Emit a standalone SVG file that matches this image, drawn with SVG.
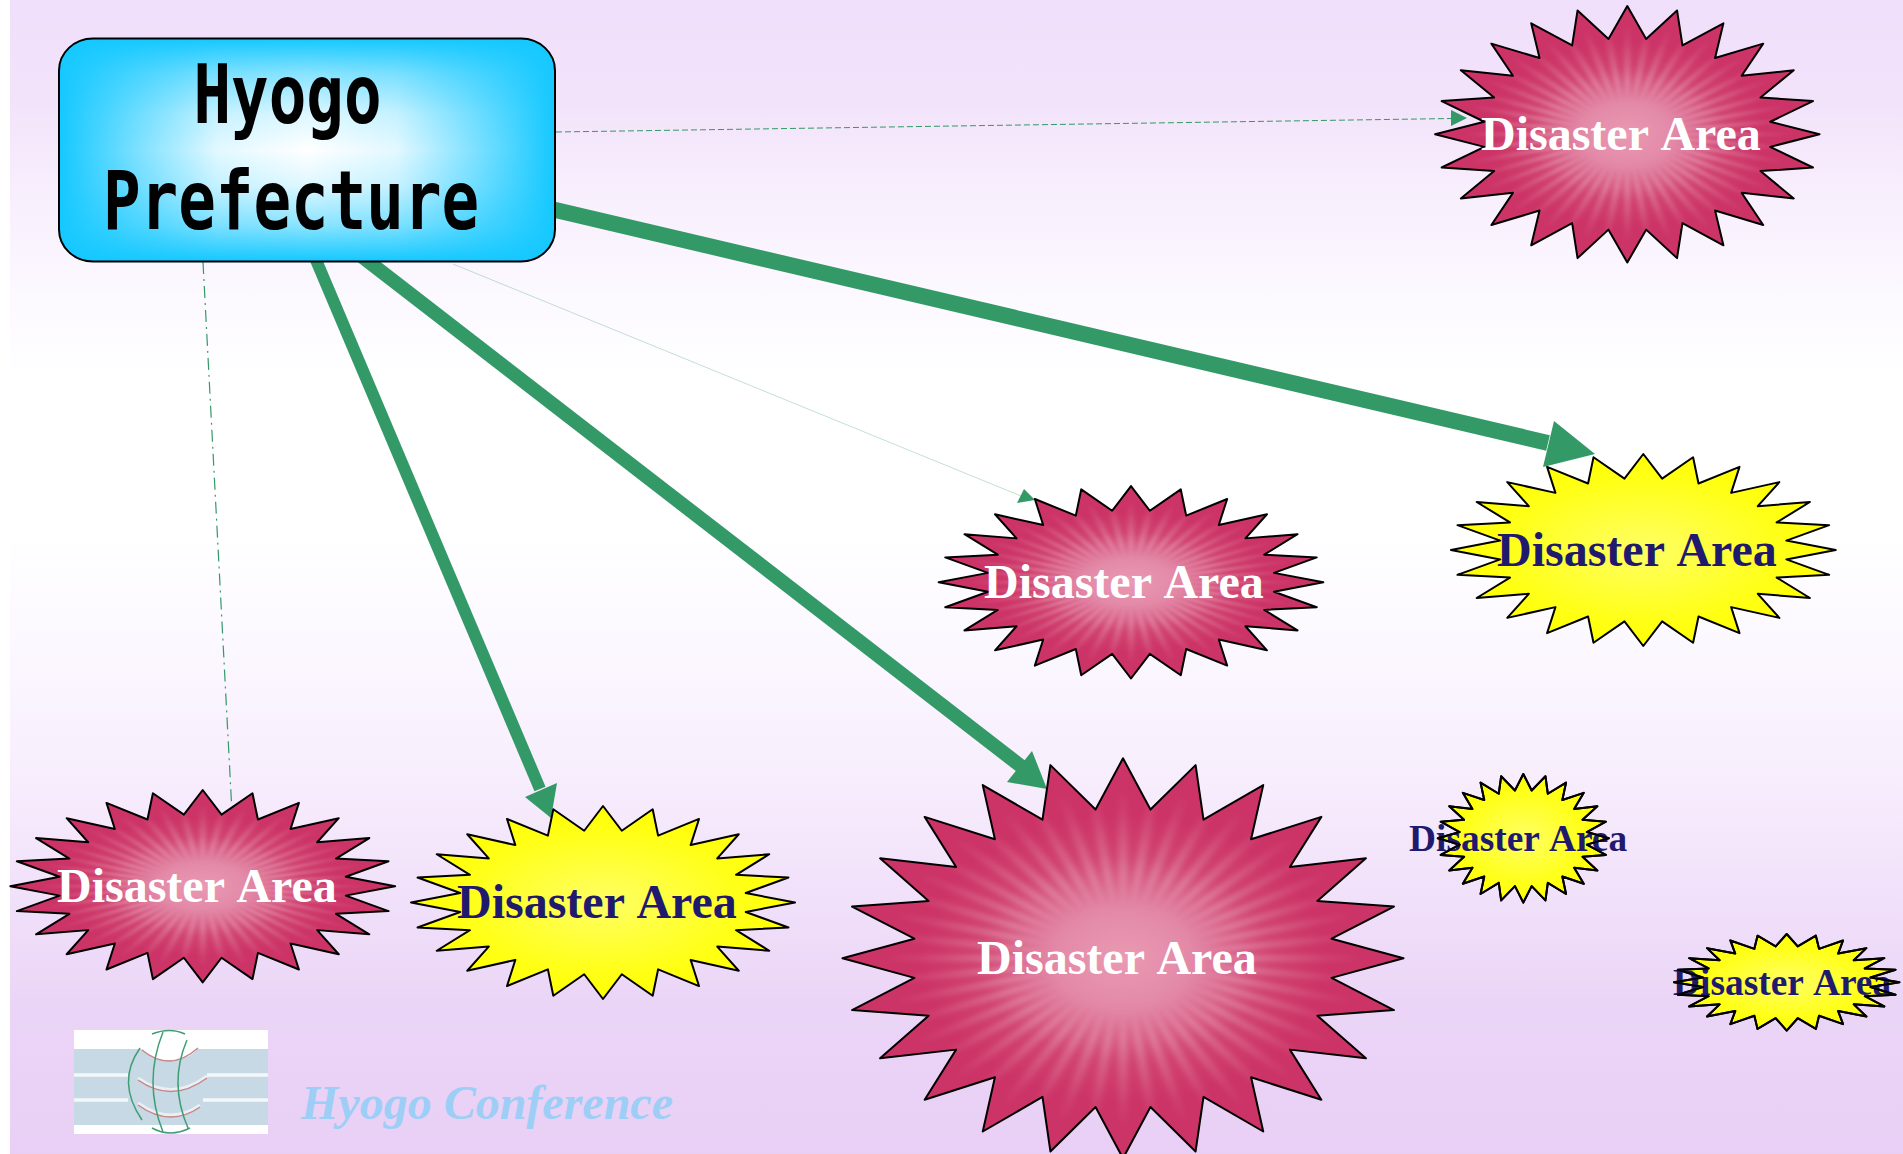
<svg xmlns="http://www.w3.org/2000/svg" xmlns:xlink="http://www.w3.org/1999/xlink" width="1903" height="1154" viewBox="0 0 1903 1154">
<style>
.sl{font-family:"Liberation Serif","Times New Roman",serif;font-weight:700;font-size:48px;word-spacing:3px}
.wh{fill:#fff}
.bl{fill:#1f1a6e}
.sm{font-size:37.4px;word-spacing:2.500px}
.edge{fill:none;stroke:#339966}
.hd{fill:#339966}
.outline{fill:none;stroke:#000;stroke-width:2;stroke-linejoin:round}
.ttl{font-family:"DejaVu Sans Mono",monospace;font-weight:700;font-size:62.500px;fill:#000}
</style>
<defs>
<linearGradient id="bg" x1="0" y1="0" x2="0" y2="1">
<stop offset="0" stop-color="#f0dffa"/><stop offset=".09" stop-color="#f2e3fa"/><stop offset=".17" stop-color="#f8effd"/><stop offset=".26" stop-color="#fcf9ff"/><stop offset=".33" stop-color="#fff"/><stop offset=".46" stop-color="#fff"/><stop offset=".57" stop-color="#fbf7ff"/><stop offset=".66" stop-color="#f8effd"/><stop offset=".87" stop-color="#ebd5f7"/><stop offset="1" stop-color="#e9cff5"/>
</linearGradient>
<linearGradient id="boxH" x1="0" y1="0" x2="1" y2="0">
<stop offset="0" stop-color="#14c8ff"/><stop offset=".16" stop-color="#14c8ff" stop-opacity=".55"/><stop offset=".32" stop-color="#14c8ff" stop-opacity=".12"/><stop offset=".5" stop-color="#14c8ff" stop-opacity="0"/><stop offset=".68" stop-color="#14c8ff" stop-opacity=".12"/><stop offset=".84" stop-color="#14c8ff" stop-opacity=".55"/><stop offset="1" stop-color="#14c8ff"/>
</linearGradient>
<linearGradient id="boxV" x1="0" y1="0" x2="0" y2="1">
<stop offset="0" stop-color="#14c8ff"/><stop offset=".16" stop-color="#14c8ff" stop-opacity=".5"/><stop offset=".34" stop-color="#14c8ff" stop-opacity=".14"/><stop offset=".5" stop-color="#14c8ff" stop-opacity="0"/><stop offset=".66" stop-color="#14c8ff" stop-opacity=".14"/><stop offset=".84" stop-color="#14c8ff" stop-opacity=".5"/><stop offset="1" stop-color="#14c8ff"/>
</linearGradient>
<radialGradient id="redG" cx=".5" cy=".5" r=".5">
<stop offset="0" stop-color="#e88fab"/><stop offset=".22" stop-color="#de7397"/><stop offset=".52" stop-color="#d04270"/><stop offset=".72" stop-color="#cc3366"/><stop offset="1" stop-color="#cc3366"/>
</radialGradient>
<radialGradient id="yelG" cx=".5" cy=".5" r=".5">
<stop offset="0" stop-color="#ffff66"/><stop offset=".7" stop-color="#ffff1a"/><stop offset="1" stop-color="#ffff00"/>
</radialGradient>
<radialGradient id="rayG" gradientUnits="userSpaceOnUse" cx="0" cy="0" r=".85">
<stop offset="0" stop-color="#fff" stop-opacity=".1"/><stop offset=".5" stop-color="#fff" stop-opacity=".24"/><stop offset="1" stop-color="#fff" stop-opacity="0"/>
</radialGradient>
<filter id="soft" filterUnits="userSpaceOnUse" x="-1.1" y="-1.1" width="2.2" height="2.2"><feGaussianBlur stdDeviation=".012"/></filter>
<polygon id="star" vector-effect="non-scaling-stroke" points="0,-1 .0979,-.7436 .2588,-.9659 .287,-.6929 .5,-.866 .4566,-.595 .7071,-.7071 .595,-.4566 .866,-.5 .6929,-.287 .9659,-.2588 .7436,-.0979 1,0 .7436,.0979 .9659,.2588 .6929,.287 .866,.5 .595,.4566 .7071,.7071 .4566,.595 .5,.866 .287,.6929 .2588,.9659 .0979,.7436 0,1 -.0979,.7436 -.2588,.9659 -.287,.6929 -.5,.866 -.4566,.595 -.7071,.7071 -.595,.4566 -.866,.5 -.6929,.287 -.9659,.2588 -.7436,.0979 -1,0 -.7436,-.0979 -.9659,-.2588 -.6929,-.287 -.866,-.5 -.595,-.4566 -.7071,-.7071 -.4566,-.595 -.5,-.866 -.287,-.6929 -.2588,-.9659 -.0979,-.7436"/>
<path id="rays" fill="none" stroke="url(#rayG)" stroke-width=".032" filter="url(#soft)" d="M-1 0L1 0M-.9659 -.2588L.9659 .2588M-.866 -.5L.866 .5M-.7071 -.7071L.7071 .7071M-.5 -.866L.5 .866M-.2588 -.9659L.2588 .9659M0 -1L0 1M.2588 -.9659L-.2588 .9659M.5 -.866L-.5 .866M.7071 -.7071L-.7071 .7071M.866 -.5L-.866 .5M.9659 -.2588L-.9659 .2588M-.9914 -.1305L.9914 .1305M-.9239 -.3827L.9239 .3827M-.7934 -.6088L.7934 .6088M-.6088 -.7934L.6088 .7934M-.3827 -.9239L.3827 .9239M-.1305 -.9914L.1305 .9914M.1305 -.9914L-.1305 .9914M.3827 -.9239L-.3827 .9239M.6088 -.7934L-.6088 .7934M.7934 -.6088L-.7934 .6088M.9239 -.3827L-.9239 .3827M.9914 -.1305L-.9914 .1305"/>
<g id="red"><use href="#star" fill="url(#redG)"/><use href="#rays"/><use href="#star" class="outline"/></g>
<g id="yel"><use href="#star" fill="url(#yelG)"/><use href="#star" class="outline"/></g>
</defs>
<rect width="1903" height="1154" fill="#fff"/>
<rect id="background" x="10" y="0" width="1893" height="1154" fill="url(#bg)"/>
<g id="connectors">
<path class="edge" stroke-width="1" stroke-dasharray="6 3" d="M556 132L1452 118.500"/>
<polygon class="hd" points="1467,118 1451,110 1451,126"/>
<path class="edge" stroke-width="16" d="M530 204L1548 443"/>
<polygon class="hd" points="1595,454 1543,467 1554,421"/>
<path class="edge" stroke-width=".6" opacity=".5" d="M453 264L1021 496"/>
<polygon class="hd" points="1035,500 1024,489 1017,503"/>
<path class="edge" stroke-width="14" d="M338 238L1022 767"/>
<polygon class="hd" points="1047,789 1032,751 1007,782"/>
<path class="edge" stroke-width="12" d="M305 234L540 789"/>
<polygon class="hd" points="551,818 557,783 525,797"/>
<path class="edge" stroke-width="1.200" stroke-dasharray="12 5 2 5" d="M203 262L231.500 803"/>
</g>
<g id="hyogo-prefecture">
<rect x="59" y="38.500" width="496" height="223" rx="34" ry="32" fill="#fff"/>
<rect x="59" y="38.500" width="496" height="223" rx="34" ry="32" fill="url(#boxH)"/>
<rect x="59" y="38.500" width="496" height="223" rx="34" ry="32" fill="url(#boxV)" stroke="#000" stroke-width="2"/>
<text class="ttl" transform="translate(193.500 122.700) scale(1 1.3)">Hyogo</text>
<text class="ttl" transform="translate(103 228.500) scale(1 1.3)">Prefecture</text>
</g>
<g id="area-1"><use href="#red" transform="translate(1627.300 134.300) scale(192.200 128.200)"/><text class="sl wh" x="1481" y="150">Disaster Area</text></g>
<g id="area-2"><use href="#yel" transform="translate(1643.300 550) scale(192.400 96)"/><text class="sl bl" x="1497" y="566">Disaster Area</text></g>
<g id="area-3"><use href="#red" transform="translate(1131 582.300) scale(192.300 96.200)"/><text class="sl wh" x="984" y="598">Disaster Area</text></g>
<g id="area-4"><use href="#red" transform="translate(202.700 886.200) scale(192.400 96.200)"/><text class="sl wh" x="57" y="902">Disaster Area</text></g>
<g id="area-5"><use href="#yel" transform="translate(603 902.500) scale(192 96.500)"/><text class="sl bl" x="457" y="918">Disaster Area</text></g>
<g id="area-6"><use href="#red" transform="translate(1123 958.300) scale(280.500 200)"/><text class="sl wh" x="977" y="974">Disaster Area</text></g>
<g id="area-7"><use href="#yel" transform="translate(1523.300 838.300) scale(85.500 64.300)"/><text class="sl sm bl" x="1409" y="850.700">Disaster Area</text><use href="#star" class="outline" transform="translate(1523.300 838.300) scale(85.500 64.300)"/></g>
<g id="area-8"><use href="#yel" transform="translate(1786.700 982.300) scale(112.700 48.300)"/><text class="sl sm bl" x="1673" y="995">Disaster Area</text><use href="#star" class="outline" transform="translate(1786.700 982.300) scale(112.700 48.300)"/></g>
<g id="logo">
<rect x="74" y="1030" width="194" height="104" fill="#fff"/>
<rect x="74" y="1049" width="194" height="76" fill="#c6d9e4"/>
<path d="M74 1075H128M207 1075H268M74 1100H128M203 1100H268" stroke="#f4f8fb" stroke-width="3.500" fill="none"/>
<ellipse cx="170" cy="1045" rx="28" ry="15" fill="#fff"/>
<g fill="none">
<path stroke="#fff" stroke-opacity=".6" stroke-width="3" d="M142 1048Q170 1071 198 1046M138 1078Q172 1102 207 1076M138 1103Q170 1126 200 1105"/>
<path stroke="#c9858a" stroke-width="1.500" d="M142 1050Q170 1073 198 1048M138 1080Q172 1104 207 1078M138 1105Q170 1128 200 1107"/>
<path stroke="#3f9e73" stroke-width="1.500" d="M140 1048Q116 1082 142 1120M163 1032Q143 1082 163 1132M187 1040Q168.500 1083 188 1128M152 1034Q170 1027 185 1034M152 1128Q170 1138 190 1128"/>
</g>
</g>
<text id="logo-caption" x="301" y="1119" font-family="Liberation Serif,serif" font-weight="700" font-style="italic" font-size="48" fill="#9ccef6">Hyogo Conference</text>
</svg>
